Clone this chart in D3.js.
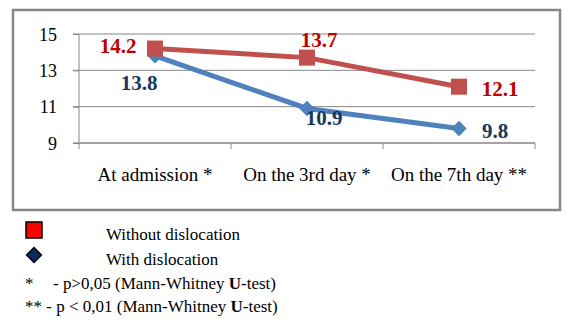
<!DOCTYPE html>
<html>
<head>
<meta charset="utf-8">
<script src="https://cdn.jsdelivr.net/npm/d3@7"></script>
<style>
  body { margin: 0; background: #fff; }
  svg { display: block; font-family: "Liberation Serif", "Times New Roman", serif; }
</style>
</head>
<body>
<div id="chart"></div>
<script>
const categories = ["At admission *", "On the 3rd day *", "On the 7th day **"];
const withoutDislocation = [14.2, 13.7, 12.1];
const withDislocation = [13.8, 10.9, 9.8];
const yTicks = [9, 11, 13, 15];

// label offsets (px) from each point, same order as the values
const redLabelOffsets = [[-37, -3], [12, -18], [41, 2]];
const blueLabelOffsets = [[-16, 27], [17, 9], [36, 2]];

const W = 568, H = 322;
const margin = { top: 34, left: 79, right: 33, bottom: 179 };
const width = W - margin.left - margin.right;
const height = H - margin.top - margin.bottom;

const svg = d3.select("#chart")
    .append("svg")
    .attr("width", W)
    .attr("height", H);

// outer frame
svg.append("rect")
    .attr("x", 13)
    .attr("y", 10)
    .attr("width", 547)
    .attr("height", 200)
    .attr("fill", "none")
    .attr("stroke", "#878787")
    .attr("stroke-width", 2.5);

const g = svg.append("g")
    .attr("transform", `translate(${margin.left},${margin.top})`);

const x = d3.scaleBand().domain(categories).range([0, width]).padding(0);
const y = d3.scaleLinear().domain([9, 15]).range([height, 0]);

// gridlines
g.selectAll(".grid")
    .data(yTicks)
    .enter()
    .append("line")
    .attr("x1", -6)
    .attr("x2", width)
    .attr("y1", d => y(d))
    .attr("y2", d => y(d))
    .attr("stroke", "#868686")
    .attr("stroke-width", 1);

// y axis
const yAxis = g.append("g")
    .call(d3.axisLeft(y).tickValues(yTicks).tickFormat(d3.format("d")).tickSize(6).tickPadding(16));
yAxis.attr("font-family", null);
yAxis.select(".domain").attr("stroke", "#868686").attr("d", `M0,0V${height}`);
yAxis.selectAll(".tick line").attr("stroke", "#868686");
yAxis.selectAll("text")
    .attr("font-size", "18px")
    .attr("fill", "#000")
    .attr("dy", "0.34em");

// x axis
const xAxis = g.append("g")
    .attr("transform", `translate(0,${height})`)
    .call(d3.axisBottom(x).tickSize(0).tickPadding(25));
xAxis.attr("font-family", null);
xAxis.select(".domain").attr("stroke", "#868686").attr("d", `M0,0H${width}`);
xAxis.selectAll("text")
    .attr("font-size", "19px")
    .attr("fill", "#000");

// category separator ticks
g.selectAll(".xtick")
    .data(categories.concat(["end"]))
    .enter()
    .append("line")
    .attr("x1", (d, i) => i * x.bandwidth())
    .attr("x2", (d, i) => i * x.bandwidth())
    .attr("y1", height)
    .attr("y2", height + 6)
    .attr("stroke", "#868686");

const cx = (d, i) => x(categories[i]) + x.bandwidth() / 2;
const line = d3.line().x((d, i) => cx(d, i)).y(d => y(d));

// with dislocation (blue)
g.append("path")
    .datum(withDislocation)
    .attr("d", line)
    .attr("fill", "none")
    .attr("stroke", "#4F81BD")
    .attr("stroke-width", 5);

g.selectAll(".diamond")
    .data(withDislocation)
    .enter()
    .append("path")
    .attr("d", d3.symbol().type(d3.symbolDiamond2).size(150))
    .attr("transform", (d, i) => `translate(${cx(d, i)},${y(d)})`)
    .attr("fill", "#4F81BD");

// without dislocation (red)
g.append("path")
    .datum(withoutDislocation)
    .attr("d", line)
    .attr("fill", "none")
    .attr("stroke", "#C0504D")
    .attr("stroke-width", 5);

g.selectAll(".square")
    .data(withoutDislocation)
    .enter()
    .append("rect")
    .attr("x", (d, i) => cx(d, i) - 8)
    .attr("y", d => y(d) - 8)
    .attr("width", 16)
    .attr("height", 16)
    .attr("fill", "#C0504D");

// data labels
g.selectAll(".red-label")
    .data(withoutDislocation)
    .enter()
    .append("text")
    .attr("x", (d, i) => cx(d, i) + redLabelOffsets[i][0])
    .attr("y", (d, i) => y(d) + redLabelOffsets[i][1])
    .attr("dy", "0.35em")
    .attr("text-anchor", "middle")
    .attr("font-size", "21px")
    .attr("font-weight", "bold")
    .attr("fill", "#C00000")
    .text(d => d.toFixed(1));

g.selectAll(".blue-label")
    .data(withDislocation)
    .enter()
    .append("text")
    .attr("x", (d, i) => cx(d, i) + blueLabelOffsets[i][0])
    .attr("y", (d, i) => y(d) + blueLabelOffsets[i][1])
    .attr("dy", "0.35em")
    .attr("text-anchor", "middle")
    .attr("font-size", "21px")
    .attr("font-weight", "bold")
    .attr("fill", "#17375E")
    .text(d => d.toFixed(1));

// legend
const legend = svg.append("g").attr("font-size", "17px").attr("fill", "#000");

legend.append("rect")
    .attr("x", 26)
    .attr("y", 222)
    .attr("width", 16)
    .attr("height", 16)
    .attr("fill", "#FF0000")
    .attr("stroke", "#000")
    .attr("stroke-width", 1.5);
legend.append("text").attr("x", 106).attr("y", 240).text("Without dislocation");

legend.append("path")
    .attr("d", d3.symbol().type(d3.symbolDiamond2).size(140))
    .attr("transform", "translate(34,255)")
    .attr("fill", "#0F2A5E")
    .attr("stroke", "#000")
    .attr("stroke-width", 1.5);
legend.append("text").attr("x", 106).attr("y", 265).text("With dislocation");

legend.append("text").attr("x", 25).attr("y", 289).text("*");
const n1 = legend.append("text").attr("x", 53).attr("y", 289);
n1.append("tspan").text("- p>0,05 (Mann-Whitney ");
n1.append("tspan").attr("font-weight", "bold").text("U");
n1.append("tspan").text("-test)");

const n2 = legend.append("text").attr("x", 25).attr("y", 312);
n2.append("tspan").text("** - p < 0,01 (Mann-Whitney ");
n2.append("tspan").attr("font-weight", "bold").text("U");
n2.append("tspan").text("-test)");
</script>
</body>
</html>
